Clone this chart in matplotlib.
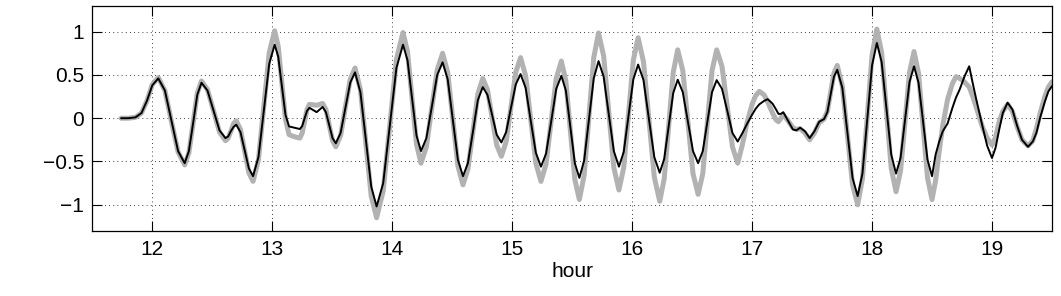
import matplotlib
matplotlib.use("Agg")
import matplotlib.pyplot as plt

plt.rcParams['font.family'] = ['Liberation Sans', 'DejaVu Sans']

# readings from the reference (hour, observed grey, model black)
hours = [
    11.74, 11.80, 11.86, 11.91, 11.955, 12.00, 12.05,
    12.105, 12.16, 12.215, 12.27,
    12.305, 12.34, 12.375, 12.41,
    12.46, 12.51, 12.56, 12.61,
    12.633, 12.655, 12.678, 12.70,
    12.735, 12.77, 12.805, 12.84,
    12.885, 12.93, 12.975, 13.02,
    13.05, 13.08, 13.11, 13.14,
    13.185, 13.23,
    13.25, 13.27, 13.29, 13.31,
    13.34, 13.37, 13.395, 13.42,
    13.4475, 13.475, 13.5025, 13.53,
    13.57, 13.61, 13.65, 13.69,
    13.735, 13.78, 13.825, 13.87,
    13.925, 13.98, 14.035, 14.09,
    14.1275, 14.165, 14.2025, 14.24,
    14.285, 14.33, 14.375, 14.42,
    14.4625, 14.505, 14.5475, 14.59,
    14.631, 14.6725, 14.714, 14.755,
    14.794, 14.8325, 14.871, 14.91,
    14.95, 14.99, 15.03, 15.07,
    15.1125, 15.155, 15.1975, 15.24,
    15.2825, 15.325, 15.3675, 15.41,
    15.4475, 15.485, 15.5225, 15.56,
    15.60, 15.64, 15.68, 15.72,
    15.7625, 15.805, 15.8475, 15.89,
    15.93, 15.97, 16.01, 16.05,
    16.095, 16.14, 16.185, 16.23,
    16.2675, 16.305, 16.3425, 16.38,
    16.4225, 16.465, 16.5075, 16.55,
    16.589, 16.6275, 16.666, 16.705,
    16.749, 16.7925, 16.836, 16.88,
    16.92, 16.96, 17.00, 17.03, 17.06, 17.10, 17.13, 17.17, 17.20,
    17.22, 17.24, 17.26, 17.30, 17.34, 17.37, 17.40, 17.44, 17.48,
    17.52, 17.56, 17.60,
    17.6275, 17.655, 17.6825, 17.71,
    17.7525, 17.795, 17.8375, 17.88,
    17.92, 17.96, 18.00, 18.04,
    18.08, 18.12, 18.16, 18.20,
    18.2375, 18.275, 18.3125, 18.35,
    18.3875, 18.425, 18.4625, 18.50,
    18.53, 18.56, 18.59, 18.63, 18.67, 18.70, 18.73, 18.77, 18.81,
    18.84, 18.87, 18.92, 18.96, 19.00, 19.03, 19.06, 19.09, 19.13,
    19.17, 19.21, 19.25, 19.30, 19.34, 19.37, 19.40, 19.44, 19.47, 19.50,
]

grey = [
    0.0, 0.0, 0.01, 0.06, 0.20, 0.39, 0.47,
    0.32, -0.04, -0.39, -0.54,
    -0.40, -0.06, 0.29, 0.43,
    0.33, 0.09, -0.16, -0.26,
    -0.23, -0.15, -0.06, -0.03,
    -0.13, -0.38, -0.63, -0.73,
    -0.48, 0.14, 0.76, 1.01,
    0.83, 0.41, -0.01, -0.19,
    -0.215, -0.23,
    -0.17, -0.035, 0.10, 0.16,
    0.155, 0.15, 0.16, 0.17,
    0.10, -0.08, -0.26, -0.33,
    -0.20, 0.13, 0.45, 0.58,
    0.33, -0.29, -0.90, -1.15,
    -0.84, -0.08, 0.68, 0.99,
    0.77, 0.24, -0.30, -0.52,
    -0.33, 0.12, 0.56, 0.75,
    0.53, -0.01, -0.55, -0.77,
    -0.59, -0.16, 0.28, 0.46,
    0.33, 0.01, -0.31, -0.44,
    -0.27, 0.13, 0.53, 0.70,
    0.49, -0.02, -0.52, -0.73,
    -0.53, -0.04, 0.46, 0.66,
    0.43, -0.14, -0.71, -0.94,
    -0.66, 0.02, 0.70, 0.985,
    0.72, 0.08, -0.57, -0.83,
    -0.57, 0.05, 0.67, 0.93,
    0.65, -0.02, -0.68, -0.96,
    -0.70, -0.09, 0.53, 0.79,
    0.55, -0.05, -0.64, -0.88,
    -0.64, -0.05, 0.55, 0.79,
    0.60, 0.14, -0.33, -0.52,
    -0.30, -0.04, 0.16, 0.26, 0.31, 0.27, 0.19, 0.06, -0.02,
    -0.04, 0.0, 0.04, -0.03, -0.11, -0.13, -0.12, -0.17, -0.25,
    -0.17, -0.05, -0.01,
    0.08, 0.30, 0.52, 0.61,
    0.37, -0.20, -0.77, -1.00,
    -0.70, 0.02, 0.73, 1.03,
    0.76, 0.09, -0.58, -0.85,
    -0.61, -0.04, 0.53, 0.77,
    0.52, -0.09, -0.69, -0.94,
    -0.72, -0.38, -0.08, 0.22, 0.40, 0.48, 0.46, 0.42, 0.36,
    0.25, 0.12, -0.10, -0.23, -0.31, -0.22, -0.04, 0.08, 0.16,
    0.08, -0.10, -0.25, -0.32, -0.26, -0.12, 0.05, 0.25, 0.36, 0.42,
]

black = [
    0.0, 0.0, 0.01, 0.06, 0.20, 0.38, 0.46,
    0.32, -0.03, -0.38, -0.52,
    -0.38, -0.06, 0.27, 0.41,
    0.32, 0.09, -0.14, -0.23,
    -0.21, -0.15, -0.10, -0.075,
    -0.16, -0.37, -0.58, -0.67,
    -0.45, 0.09, 0.63, 0.85,
    0.71, 0.38, 0.04, -0.095,
    -0.11, -0.125,
    -0.09, 0.0, 0.085, 0.12,
    0.095, 0.07, 0.10, 0.13,
    0.07, -0.08, -0.23, -0.29,
    -0.17, 0.12, 0.41, 0.53,
    0.30, -0.25, -0.79, -1.02,
    -0.75, -0.09, 0.58, 0.85,
    0.67, 0.24, -0.20, -0.38,
    -0.23, 0.13, 0.50, 0.645,
    0.45, -0.01, -0.48, -0.67,
    -0.52, -0.16, 0.21, 0.36,
    0.27, 0.04, -0.19, -0.28,
    -0.16, 0.12, 0.39, 0.51,
    0.35, -0.03, -0.40, -0.56,
    -0.41, -0.04, 0.34, 0.49,
    0.32, -0.10, -0.52, -0.69,
    -0.49, -0.02, 0.46, 0.66,
    0.48, 0.05, -0.38, -0.56,
    -0.39, 0.03, 0.45, 0.62,
    0.44, -0.01, -0.45, -0.63,
    -0.47, -0.09, 0.29, 0.445,
    0.30, -0.04, -0.38, -0.52,
    -0.38, -0.04, 0.30, 0.44,
    0.34, 0.09, -0.17, -0.27,
    -0.17, -0.06, 0.04, 0.11, 0.16, 0.20, 0.22, 0.17, 0.10,
    0.05, 0.05, 0.07, -0.03, -0.13, -0.14, -0.11, -0.15, -0.23,
    -0.15, -0.04, -0.01,
    0.07, 0.275, 0.48, 0.56,
    0.35, -0.17, -0.69, -0.90,
    -0.64, -0.02, 0.61, 0.87,
    0.65, 0.12, -0.42, -0.64,
    -0.46, -0.02, 0.42, 0.60,
    0.41, -0.04, -0.48, -0.67,
    -0.42, -0.27, -0.15, -0.06, 0.12, 0.24, 0.33, 0.48, 0.60,
    0.40, 0.21, -0.09, -0.32, -0.46, -0.34, -0.13, 0.06, 0.18,
    0.10, -0.09, -0.25, -0.33, -0.27, -0.17, 0.0, 0.19, 0.31, 0.37,
]

xticks = [12, 13, 14, 15, 16, 17, 18, 19]
yticks = [-1, -0.5, 0, 0.5, 1]
ytick_labels = ['\u22121', '\u22120.5', '0', '0.5', '1']

fig = plt.figure(figsize=(10.61, 2.96), dpi=100)
ax = fig.add_axes([0.087, 0.2206, 0.9045, 0.7601])

ax.plot(hours, grey, color='#b2b2b2', lw=3.6,
        solid_capstyle='round', solid_joinstyle='round')
ax.plot(hours, black, color='black', lw=1.4,
        solid_capstyle='round', solid_joinstyle='round')

ax.set_xlim(11.5, 19.5)
ax.set_ylim(-1.3, 1.3)
ax.set_xticks(xticks)
ax.set_yticks(yticks)
ax.set_yticklabels(ytick_labels)
ax.grid(True, linestyle=(0, (1, 4)), color='black', lw=0.6)
ax.tick_params(direction='in', length=7, width=0.8, top=True, right=True,
               labelsize=15)
ax.tick_params(axis='x', pad=7)
ax.tick_params(axis='y', pad=6)
for s in ax.spines.values():
    s.set_linewidth(0.9)
ax.set_xlabel('hour', fontsize=15, labelpad=2)

fig.savefig('out.png', dpi=100)
